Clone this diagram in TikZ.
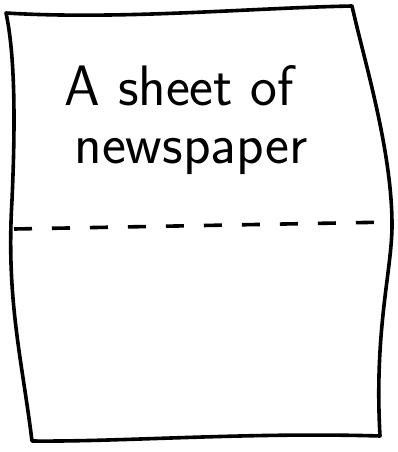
\documentclass[tikz,border=0pt]{standalone}
\usetikzlibrary{positioning}

\begin{document}
\begin{tikzpicture}[
  x=1pt, y=-1pt,
  every node/.style={font=\sffamily},
  sheet/.style={line width=3.6pt, line join=round, line cap=round},
  fold/.style={line width=3.6pt, dash pattern=on 18pt off 20pt},
  label/.style={font=\sffamily\fontsize{57}{62}\selectfont, align=left, inner sep=0pt},
]
  \useasboundingbox (0,0) rectangle (398,452);

  % Sheet outline
  \draw[sheet] (6,13) .. controls (120,20) and (250,8) .. (352,6)
    .. controls (364,60) and (392,150) .. (392,225)
    .. controls (392,270) and (374,330) .. (380,436)
    .. controls (250,432) and (120,442) .. (32,441)
    .. controls (22,360) and (6,300) .. (12,200)
    .. controls (16,110) and (14,50) .. (6,13) -- cycle;

  % Fold line
  \coordinate (foldL) at (14,229);
  \coordinate (foldR) at (392,222);
  \draw[fold] (foldL) -- (foldR);

  % Label
  \node[label] (title) at (186,120) {A sheet of\\[-4pt]\hspace*{10pt}newspaper};
\end{tikzpicture}
\end{document}
